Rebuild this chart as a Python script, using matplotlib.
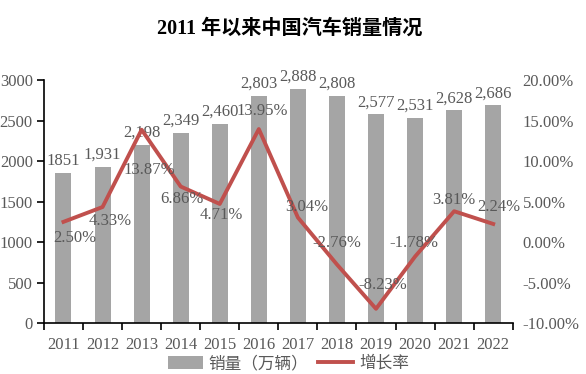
import numpy as np
import matplotlib.pyplot as plt
from matplotlib.patches import Patch
from matplotlib.lines import Line2D

plt.rcParams['font.family'] = ['Liberation Serif', 'Noto Sans CJK SC', 'DejaVu Sans']

years = ['2011', '2012', '2013', '2014', '2015', '2016', '2017', '2018', '2019', '2020', '2021', '2022']
sales = [1851, 1931, 2198, 2349, 2460, 2803, 2888, 2808, 2577, 2531, 2628, 2686]
sales_labels = ['1851', '1,931', '2,198', '2,349', '2,460', '2,803', '2,888', '2,808',
                '2,577', '2,531', '2,628', '2,686']
growth = [2.50, 4.33, 13.87, 6.86, 4.71, 13.95, 3.04, -2.76, -8.23, -1.78, 3.81, 2.24]

# label offsets (pixels) relative to each line point
offs = [(11, -16), (8, -14), (8, -40), (1, -12), (2, -11), (3, 18),
        (9, 10), (0, 21), (7, 24), (-1, 14), (0, 11), (6, 17)]

txt = '#595959'
bar_c = '#A5A5A5'
line_c = '#C0504D'
fs = 12

fig = plt.figure(figsize=(5.86, 3.74), dpi=100)
ax = fig.add_axes([0.075, 0.136, 0.80, 0.650])
x = np.arange(len(years))
ax.bar(x, sales, width=0.41, color=bar_c, zorder=1)
ax.set_xlim(-0.5, len(years) - 0.5)
ax.set_ylim(0, 3000)
ax.set_yticks(np.arange(0, 3001, 500))
ax.set_xticks(x)
ax.set_xticklabels(years)
ax.set_xticks(np.arange(-0.5, len(years), 1), minor=True)
ax.tick_params(axis='x', which='major', length=0, pad=10, labelsize=fs, labelcolor=txt)
ax.tick_params(axis='x', which='minor', length=5, width=1.2, direction='out', color='black')
ax.tick_params(axis='y', length=5, width=1.2, direction='out', labelsize=fs, labelcolor=txt, pad=3)
for s in ['top', 'right']:
    ax.spines[s].set_visible(False)
for s in ['left', 'bottom']:
    ax.spines[s].set_linewidth(1.2)
for i, v in enumerate(sales):
    ax.annotate(sales_labels[i], (x[i], v), xytext=(0, 4), textcoords='offset pixels',
                ha='center', va='bottom', fontsize=fs, color=txt)

ax2 = ax.twinx()
ax2.plot(x, growth, color=line_c, lw=2.8, zorder=3)
ax2.set_ylim(-10, 20)
ax2.set_yticks(np.arange(-10, 21, 5))
ax2.set_yticklabels(['%.2f%%' % t for t in np.arange(-10, 21, 5)])
ax2.tick_params(axis='y', length=0, labelsize=fs, labelcolor=txt, pad=7)
for s in ax2.spines.values():
    s.set_visible(False)
for i, g in enumerate(growth):
    ax2.annotate('%.2f%%' % g, (x[i], g), xytext=offs[i], textcoords='offset pixels',
                 ha='center', va='center', fontsize=fs, color=txt)

fig.text(0.495, 0.922, '2011 年以来中国汽车销量情况', ha='center', va='center',
         fontsize=14.5, fontweight='bold', color='black')

handles = [Patch(facecolor=bar_c, edgecolor='none'),
           Line2D([0], [0], color=line_c, lw=2.8)]
fig.legend(handles, ['销量（万辆）', '增长率'], loc='center', bbox_to_anchor=(0.492, 0.027),
           ncol=2, frameon=False, fontsize=fs, labelcolor=txt, handlelength=2.1,
           handleheight=0.8, columnspacing=0.6, handletextpad=0.35)

fig.savefig('out.png', dpi=100)
